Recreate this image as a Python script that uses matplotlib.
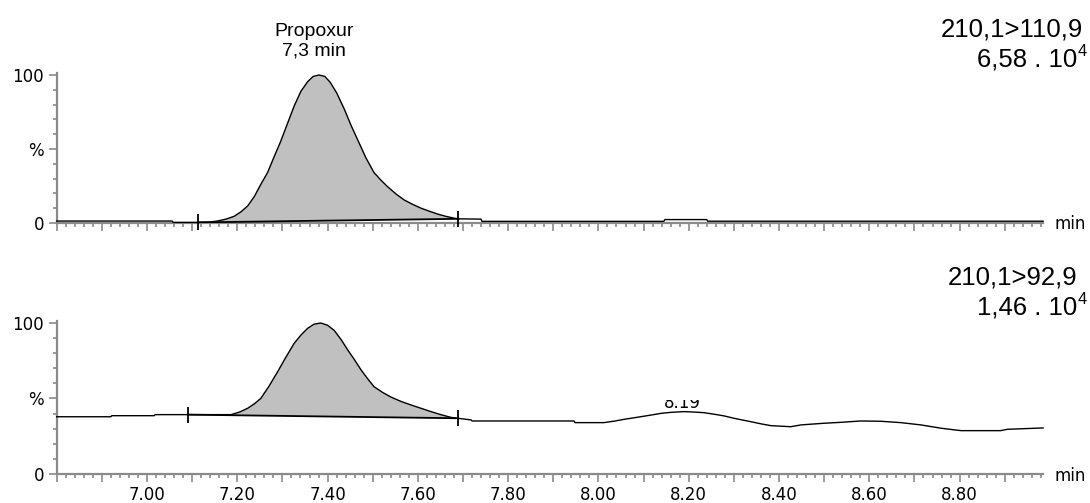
import matplotlib.pyplot as plt
import numpy as np
from matplotlib.ticker import MultipleLocator, FixedLocator, FuncFormatter
from matplotlib.transforms import Bbox, TransformedBbox

# trace 1: 210,1>110,9  (time in min, intensity in %)
top_x = [6.80, 7.056, 7.058, 7.113, 7.140, 7.157, 7.175, 7.193, 7.208, 7.223, 7.238, 7.252, 7.267,
         7.282, 7.296, 7.311, 7.326, 7.341, 7.356, 7.368, 7.381, 7.394, 7.406, 7.420, 7.437, 7.452,
         7.467, 7.485, 7.503, 7.518, 7.533, 7.552, 7.570, 7.589, 7.607, 7.625, 7.644, 7.662, 7.681,
         7.690, 7.740, 7.742, 8.145, 8.147, 8.240, 8.242, 8.985]
top_y = [1.3, 1.3, 0.4, 0.4, 0.6, 1.4, 2.6, 4.5, 7.5, 11.5, 18, 26, 34,
         45, 55, 67, 79, 89, 95.5, 99, 100, 99, 95, 88, 77, 66,
         56, 44, 34, 29, 24.5, 19.5, 15.5, 12.5, 10, 8, 6, 4.5, 3.2,
         2.8, 2.6, 1.1, 1.1, 2.3, 2.3, 1.2, 1.2]
top_start, top_end = 7.113, 7.690

# trace 2: 210,1>92,9
bot_x = [6.80, 6.920, 6.922, 7.016, 7.018, 7.091, 7.186, 7.205, 7.223, 7.238, 7.252, 7.270, 7.289,
         7.307, 7.326, 7.341, 7.356, 7.370, 7.385, 7.400, 7.415, 7.430, 7.445, 7.460, 7.474, 7.489,
         7.503, 7.522, 7.540, 7.563, 7.585, 7.607, 7.629, 7.651, 7.673, 7.688, 7.718, 7.720, 7.946,
         7.948, 8.012, 8.035, 8.057, 8.087, 8.116, 8.140, 8.160, 8.190, 8.212, 8.234, 8.264, 8.279,
         8.300, 8.338, 8.360, 8.382, 8.426, 8.449, 8.500, 8.537, 8.581, 8.626, 8.670, 8.714, 8.759,
         8.803, 8.891, 8.906, 8.943, 8.985]
bot_y = [37.9, 37.9, 38.6, 38.6, 39.3, 39.3, 39.3, 41, 43.5, 46.5, 50, 58, 67.5,
         77, 86.5, 92, 96.5, 99.2, 100, 98.5, 95, 89, 82, 75.5, 69, 63,
         57.8, 54, 51, 48, 45.7, 43.5, 41.3, 39.3, 37.5, 36.9, 35.8, 35.1, 35.1,
         34, 34, 35, 36.2, 37.6, 39, 40.2, 40.8, 41.3, 41.0, 40.6, 39.2, 38.4,
         36.9, 34.6, 33.2, 32, 31.3, 32.5, 33.6, 34.2, 35.1, 34.9, 34.0, 32.5, 30.3,
         28.7, 28.7, 29.6, 30, 30.5]
bot_start, bot_end = 7.091, 7.688

ytick_pos = [0, 50, 100]
ytick_lab = ['0', '%', '100']

gray = '#8a8a8a'
tick_font = 'DejaVu Sans'
text_font = 'Liberation Sans'

fig = plt.figure(figsize=(10.9, 5.03), dpi=100)
ax1 = fig.add_axes([0.052, 0.5567, 0.905, 0.2972])
ax2 = fig.add_axes([0.052, 0.0577, 0.905, 0.3032])


def style(ax, show_labels):
    ax.set_xlim(6.80, 8.985)
    ax.set_ylim(0, 101)
    for s in ['top', 'right']:
        ax.spines[s].set_visible(False)
    for s in ['left', 'bottom']:
        ax.spines[s].set_color(gray)
        ax.spines[s].set_linewidth(1.6)
    ax.xaxis.set_major_locator(MultipleLocator(0.1))
    ax.xaxis.set_minor_locator(MultipleLocator(0.02))
    ax.yaxis.set_major_locator(FixedLocator(ytick_pos))
    ax.yaxis.set_minor_locator(MultipleLocator(10))
    ax.set_yticklabels(ytick_lab)
    ax.xaxis.set_major_formatter(FuncFormatter(
        lambda v, p: f'{v:.2f}' if (v > 6.9 and round(v * 10) % 2 == 0) else ''))
    ax.tick_params(which='major', length=6, width=1.2, color=gray, pad=3,
                   labelsize=12, labelbottom=show_labels)
    ax.tick_params(which='minor', length=3, width=1.2, color=gray)
    for lab in ax.get_xticklabels() + ax.get_yticklabels():
        lab.set_fontfamily(tick_font)
    ax.text(1.012, -0.01, 'min', transform=ax.transAxes, ha='left', va='center',
            fontsize=12, family=tick_font)


def draw_trace(ax, xs, ys, start, end):
    xs = np.array(xs)
    ys = np.array(ys)
    inside = (xs >= start) & (xs <= end)
    ax.fill(xs[inside], ys[inside], color='#c0c0c0', lw=0, zorder=1)
    ax.plot(xs, ys, color='black', lw=1.0, zorder=3, clip_on=False)
    y0 = ys[xs == start][0]
    y1 = ys[xs == end][0]
    ax.plot([start, end], [y0, y1], color='black', lw=1.3, zorder=4)
    ax.plot([start, end], [y0, y1], ls='none', marker='|', ms=12, mew=1.3,
            color='black', zorder=5, clip_on=False)


style(ax1, False)
style(ax2, True)
draw_trace(ax1, top_x, top_y, top_start, top_end)
draw_trace(ax2, bot_x, bot_y, bot_start, bot_end)

# peak annotation
fig.text(314 / 1090, 1 - 55 / 503, 'Propoxur\n7,3 min', ha='center', va='baseline',
         fontsize=14, family=text_font, linespacing=1.15)

# channel labels
fig.text(1083 / 1090, 1 - 37 / 503, '210,1>110,9', ha='right', va='baseline',
         fontsize=18.5, family=text_font)
fig.text(1077 / 1090, 1 - 67 / 503, '6,58 . 10', ha='right', va='baseline',
         fontsize=18.5, family=text_font)
fig.text(1078 / 1090, 1 - 56 / 503, '4', ha='left', va='baseline',
         fontsize=12, family=text_font)

fig.text(1077 / 1090, 1 - 285 / 503, '210,1>92,9', ha='right', va='baseline',
         fontsize=18.5, family=text_font)
fig.text(1077 / 1090, 1 - 315 / 503, '1,46 . 10', ha='right', va='baseline',
         fontsize=18.5, family=text_font)
fig.text(1078 / 1090, 1 - 304 / 503, '4', ha='left', va='baseline',
         fontsize=12, family=text_font)

# partly hidden retention time label in trace 2
t = ax2.text(8.185, 43.7, '8.19', ha='center', va='baseline', fontsize=12,
             family=tick_font, zorder=6)
t.set_clip_on(True)
t.set_clip_box(TransformedBbox(Bbox([[8.0, 0], [8.4, 49]]), ax2.transData))

fig.savefig('out.png', dpi=100)
